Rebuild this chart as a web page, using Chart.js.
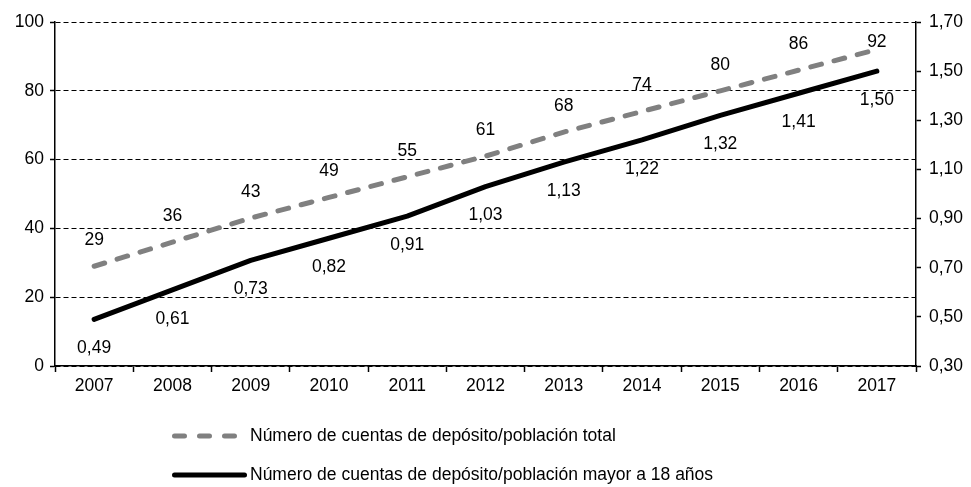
<!DOCTYPE html>
<html>
<head>
<meta charset="utf-8">
<script src="https://cdn.jsdelivr.net/npm/chart.js@4/dist/chart.umd.min.js"></script>
<style>
  html, body { margin: 0; padding: 0; background: #fff; }
  #wrap { width: 971px; height: 487px; }
</style>
</head>
<body>
<div id="wrap"><canvas id="chart"></canvas></div>
<script>
'use strict';

var years = ['2007', '2008', '2009', '2010', '2011', '2012', '2013', '2014', '2015', '2016', '2017'];
var cuentasTotal = [29, 36, 43, 49, 55, 61, 68, 74, 80, 86, 92];
var cuentasAdultos = [0.49, 0.61, 0.73, 0.82, 0.91, 1.03, 1.13, 1.22, 1.32, 1.41, 1.50];
var seriesNames = [
	'Número de cuentas de depósito/población total',
	'Número de cuentas de depósito/población mayor a 18 años'
];

var fontFamily = "'Liberation Sans', Arial, sans-serif";
var fontSize = 17.5;

function coma(v, dec) {
	return Number(v).toFixed(dec).replace('.', ',');
}

// data labels: grey ones above the points, black ones below
var labelPlugin = {
	id: 'valueLabels',
	afterDatasetsDraw: function(chart) {
		var ctx = chart.ctx;
		var area = chart.chartArea;
		ctx.save();
		ctx.font = fontSize + 'px ' + fontFamily;
		ctx.fillStyle = '#000';
		ctx.textAlign = 'center';
		ctx.textBaseline = 'middle';
		chart.getDatasetMeta(0).data.forEach(function(pt, i) {
			var y = Math.max(pt.y - 26, area.top + 20);
			ctx.fillText(String(cuentasTotal[i]), pt.x, y);
		});
		chart.getDatasetMeta(1).data.forEach(function(pt, i) {
			ctx.fillText(coma(cuentasAdultos[i], 2), pt.x, pt.y + 29);
		});
		ctx.restore();
	}
};

// two-row legend under the axis
var legendPlugin = {
	id: 'twoRowLegend',
	afterDraw: function(chart) {
		var ctx = chart.ctx;
		var x0 = 174.5, tx = 250;
		var rows = [436, 475];
		ctx.save();
		ctx.lineWidth = 5;
		ctx.lineCap = 'round';

		ctx.strokeStyle = '#808080';
		ctx.setLineDash([10, 15]);
		ctx.beginPath();
		ctx.moveTo(x0, rows[0]);
		ctx.lineTo(x0 + 60, rows[0]);
		ctx.stroke();

		ctx.strokeStyle = '#000';
		ctx.setLineDash([]);
		ctx.beginPath();
		ctx.moveTo(x0, rows[1]);
		ctx.lineTo(x0 + 70, rows[1]);
		ctx.stroke();

		ctx.font = fontSize + 'px ' + fontFamily;
		ctx.fillStyle = '#000';
		ctx.textAlign = 'left';
		ctx.textBaseline = 'middle';
		ctx.fillText(seriesNames[0], tx, rows[0]);
		ctx.fillText(seriesNames[1], tx, rows[1]);
		ctx.restore();
	}
};

Chart.defaults.font.family = fontFamily;
Chart.defaults.font.size = fontSize;
Chart.defaults.color = '#000';

new Chart(document.getElementById('chart'), {
	type: 'line',
	data: {
		labels: years,
		datasets: [{
			label: seriesNames[0],
			data: cuentasTotal,
			yAxisID: 'y',
			borderColor: '#808080',
			borderWidth: 5,
			borderDash: [11, 13],
			borderCapStyle: 'round',
			pointRadius: 0,
			tension: 0,
			fill: false
		}, {
			label: seriesNames[1],
			data: cuentasAdultos,
			yAxisID: 'y1',
			borderColor: '#000',
			borderWidth: 5,
			borderCapStyle: 'round',
			borderJoinStyle: 'round',
			pointRadius: 0,
			tension: 0,
			fill: false
		}]
	},
	options: {
		responsive: true,
		maintainAspectRatio: false,
		animation: false,
		layout: {
			padding: { left: 0, right: 0, top: 22, bottom: 0 }
		},
		plugins: {
			legend: { display: false },
			tooltip: { enabled: false }
		},
		scales: {
			x: {
				offset: true,
				afterFit: function(scale) { scale.height = 121; },
				grid: {
					display: true,
					drawOnChartArea: false,
					offset: true,
					tickLength: 6,
					tickColor: '#000',
					tickWidth: 1.5
				},
				border: { display: true, color: '#000', width: 1.5 },
				ticks: { padding: 4, color: '#000', maxRotation: 0 }
			},
			y: {
				position: 'left',
				min: 0,
				max: 100,
				afterFit: function(scale) { scale.width = 55; },
				ticks: { stepSize: 20, padding: 6, color: '#000' },
				grid: {
					color: '#000',
					lineWidth: 1,
					tickLength: 5,
					tickColor: '#000',
					tickWidth: 1.5
				},
				border: { display: true, color: '#000', width: 1.5, dash: [5, 3] }
			},
			y1: {
				position: 'right',
				min: 0.3,
				max: 1.7,
				afterFit: function(scale) { scale.width = 55; },
				ticks: {
					stepSize: 0.2,
					padding: 8,
					color: '#000',
					callback: function(v) { return coma(v, 2); }
				},
				grid: {
					drawOnChartArea: false,
					tickLength: 5,
					tickColor: '#000',
					tickWidth: 1.5
				},
				border: { display: true, color: '#000', width: 1.5 }
			}
		}
	},
	plugins: [labelPlugin, legendPlugin]
});
</script>
</body>
</html>
